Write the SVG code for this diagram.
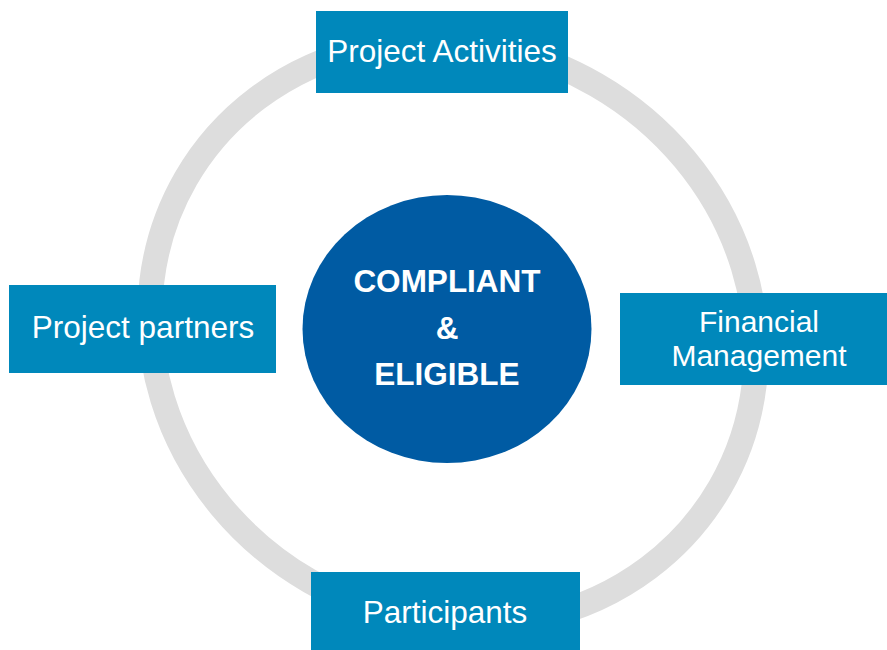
<svg xmlns="http://www.w3.org/2000/svg" width="887" height="650" viewBox="0 0 887 650">
  <style>
    .box { fill: #0088BB; }
    .lbl { fill: #FFFFFF; font-family: "Liberation Sans", Arial, sans-serif; font-size: 31.5px; text-anchor: middle; }
    .lbl2 { fill: #FFFFFF; font-family: "Liberation Sans", Arial, sans-serif; font-size: 30px; text-anchor: middle; }
    .ctr { fill: #FFFFFF; font-family: "Liberation Sans", Arial, sans-serif; font-size: 31.5px; font-weight: bold; text-anchor: middle; }
    .ring { fill: none; stroke: #DDDDDD; stroke-width: 25; }
  </style>
  <rect x="0" y="0" width="887" height="650" fill="#FFFFFF"/>
  <g id="connectors">
    <ellipse class="ring" cx="453" cy="333" rx="308.5" ry="286.5" transform="rotate(30 453 333)"/>
  </g>
  <g id="center">
    <ellipse cx="447" cy="329" rx="144.5" ry="134" fill="#005BA3"/>
    <text class="ctr" x="447" y="292">COMPLIANT</text>
    <text class="ctr" x="447" y="339">&amp;</text>
    <text class="ctr" x="447" y="385">ELIGIBLE</text>
  </g>
  <g id="project-activities">
    <rect class="box" x="316" y="11" width="252" height="82"/>
    <text class="lbl" x="442" y="62">Project Activities</text>
  </g>
  <g id="project-partners">
    <rect class="box" x="9" y="285" width="267" height="88"/>
    <text class="lbl" x="143" y="338">Project partners</text>
  </g>
  <g id="financial-management">
    <rect class="box" x="620" y="293" width="267" height="92"/>
    <text class="lbl2" x="759" y="332">Financial</text>
    <text class="lbl2" x="759" y="366">Management</text>
  </g>
  <g id="participants">
    <rect class="box" x="311" y="572" width="269" height="78"/>
    <text class="lbl" x="445" y="623">Participants</text>
  </g>
</svg>
